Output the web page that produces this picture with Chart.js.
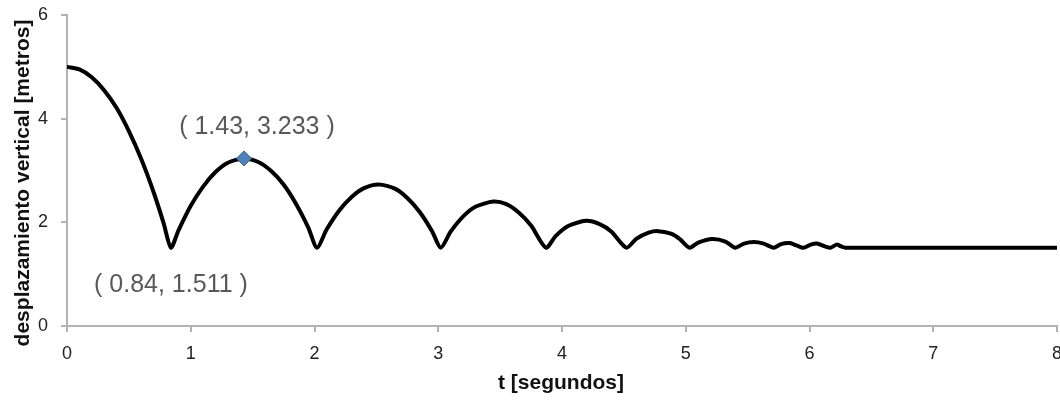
<!DOCTYPE html>
<html>
<head>
<meta charset="utf-8">
<script src="https://cdn.jsdelivr.net/npm/chart.js@4"></script>
<style>
  html, body { margin: 0; padding: 0; background: #fff; overflow: hidden; }
  canvas { display: block; }
</style>
</head>
<body>
<canvas id="myChart" width="1060" height="402"></canvas>
<script>
/* Datos */

let tiempo = [
  0, 0.1, 0.2, 0.3, 0.4, 0.5, 0.6, 0.7, 0.78, 0.84,
  0.9, 1.0, 1.1, 1.2, 1.3, 1.43, 1.55, 1.65, 1.75, 1.85, 1.95, 2.02,
  2.1, 2.2, 2.3, 2.4, 2.52, 2.65, 2.75, 2.85, 2.95, 3.02,
  3.1, 3.2, 3.3, 3.445, 3.55, 3.65, 3.75, 3.87,
  3.95, 4.05, 4.195, 4.3, 4.4, 4.52,
  4.6, 4.7, 4.775, 4.88, 4.95, 5.03,
  5.1, 5.215, 5.32, 5.40,
  5.47, 5.55, 5.63, 5.71,
  5.77, 5.84, 5.90, 5.95, 6.01, 6.06, 6.12, 6.17, 6.22, 6.26, 6.29,
  7.0, 8.0
];
let desplazamiento = [
  5.00, 4.95, 4.80, 4.55, 4.21, 3.76, 3.22, 2.58, 1.99, 1.511,
  1.84, 2.32, 2.69, 2.97, 3.15, 3.233, 3.16, 2.99, 2.73, 2.36, 1.90, 1.511,
  1.87, 2.23, 2.49, 2.66, 2.73, 2.65, 2.47, 2.20, 1.83, 1.511,
  1.82, 2.11, 2.30, 2.40, 2.35, 2.19, 1.94, 1.511,
  1.74, 1.93, 2.03, 1.97, 1.82, 1.511,
  1.68, 1.80, 1.83, 1.78, 1.68, 1.511,
  1.61, 1.68, 1.63, 1.511,
  1.59, 1.62, 1.59, 1.511,
  1.58, 1.60, 1.55, 1.511, 1.57, 1.59, 1.54, 1.511, 1.57, 1.53, 1.511,
  1.511, 1.511
];

// puntos marcados y sus etiquetas
let marcaT = [1.43];
let marcaY = [3.233];
let etiquetas = [
  { t: 1.43, y: 3.233, texto: '( 1.43, 3.233 )', dx: 13, dy: -31 },
  { t: 0.84, y: 1.511, texto: '( 0.84, 1.511 )', dx: 0, dy: 37 }
];

let ticksX = [0, 1, 2, 3, 4, 5, 6, 7, 8];
let ticksY = [0, 2, 4, 6];

let tituloX = 't [segundos]';
let tituloY = 'desplazamiento vertical [metros]';

const ctx = document.getElementById('myChart');
const gris = '#b3b3b3';
const fuente = '"Liberation Sans", Arial, sans-serif';

/* ============================== */

function armar_puntos(xs, ys) {
  let puntos = [];
  xs.forEach((x, i) => {
    puntos.push({ x: x, y: ys[i] });
  });
  return puntos;
}

// plugin para escribir las coordenadas junto a los puntos y los titulos de ejes
const textosPlugin = {
  id: 'textosGrafico',
  afterDatasetsDraw(chart) {
    let c = chart.ctx;
    let sx = chart.scales.x;
    let sy = chart.scales.y;
    c.save();
    c.font = '25px ' + fuente;
    c.fillStyle = '#595959';
    c.textAlign = 'center';
    c.textBaseline = 'middle';
    etiquetas.forEach(e => {
      let px = sx.getPixelForValue(e.t) + e.dx;
      let py = sy.getPixelForValue(e.y) + e.dy;
      c.fillText(e.texto, px, py);
    });

    // titulos
    c.fillStyle = '#111';
    c.font = 'bold 21px ' + fuente;
    c.fillText(tituloX, 561, 383);
    c.translate(23, 183);
    c.rotate(-Math.PI / 2);
    c.font = 'bold 21px ' + fuente;
    c.fillText(tituloY, 0, 0);
    c.restore();
  }
};

function start_chart() {
  const config = {
    type: 'scatter',
    data: {
      datasets: [{
        label: 'marca',
        data: armar_puntos(marcaT, marcaY),
        pointStyle: 'rectRot',
        pointRadius: 7.5,
        backgroundColor: '#4f81bd',
        borderColor: '#385d8a',
        borderWidth: 1,
        showLine: false
      }, {
        label: 'desplazamiento',
        data: armar_puntos(tiempo, desplazamiento),
        showLine: true,
        borderColor: '#000',
        borderWidth: 4,
        borderJoinStyle: 'round',
        borderCapStyle: 'round',
        pointRadius: 0,
        tension: 0.25
      }]
    },
    options: {
      responsive: false,
      animation: false,
      layout: {
        autoPadding: false,
        padding: { top: 15, right: 3, left: 0, bottom: 0 }
      },
      plugins: {
        legend: { display: false },
        tooltip: { enabled: false }
      },
      scales: {
        x: {
          type: 'linear',
          min: 0,
          max: 8,
          afterBuildTicks: (s) => { s.ticks = ticksX.map(v => ({ value: v })); },
          afterFit: (s) => {
            s.height = 76;
            s.paddingLeft = 0;
            s.paddingRight = 0;
          },
          border: { color: gris, width: 2 },
          grid: { drawOnChartArea: false, color: gris, tickLength: 6, lineWidth: 2 },
          ticks: {
            color: '#222',
            padding: 11,
            maxRotation: 0,
            font: { family: fuente, size: 18 }
          }
        },
        y: {
          type: 'linear',
          min: 0,
          max: 6,
          afterBuildTicks: (s) => { s.ticks = ticksY.map(v => ({ value: v })); },
          afterFit: (s) => {
            s.width = 67;
            s.paddingTop = 0;
            s.paddingBottom = 0;
          },
          border: { color: gris, width: 2 },
          grid: { drawOnChartArea: false, color: gris, tickLength: 6, lineWidth: 2 },
          ticks: {
            color: '#222',
            padding: 13,
            font: { family: fuente, size: 18 }
          }
        }
      }
    },
    plugins: [textosPlugin]
  };
  new Chart(ctx, config);
}

window.addEventListener('load', start_chart);
</script>
</body>
</html>
